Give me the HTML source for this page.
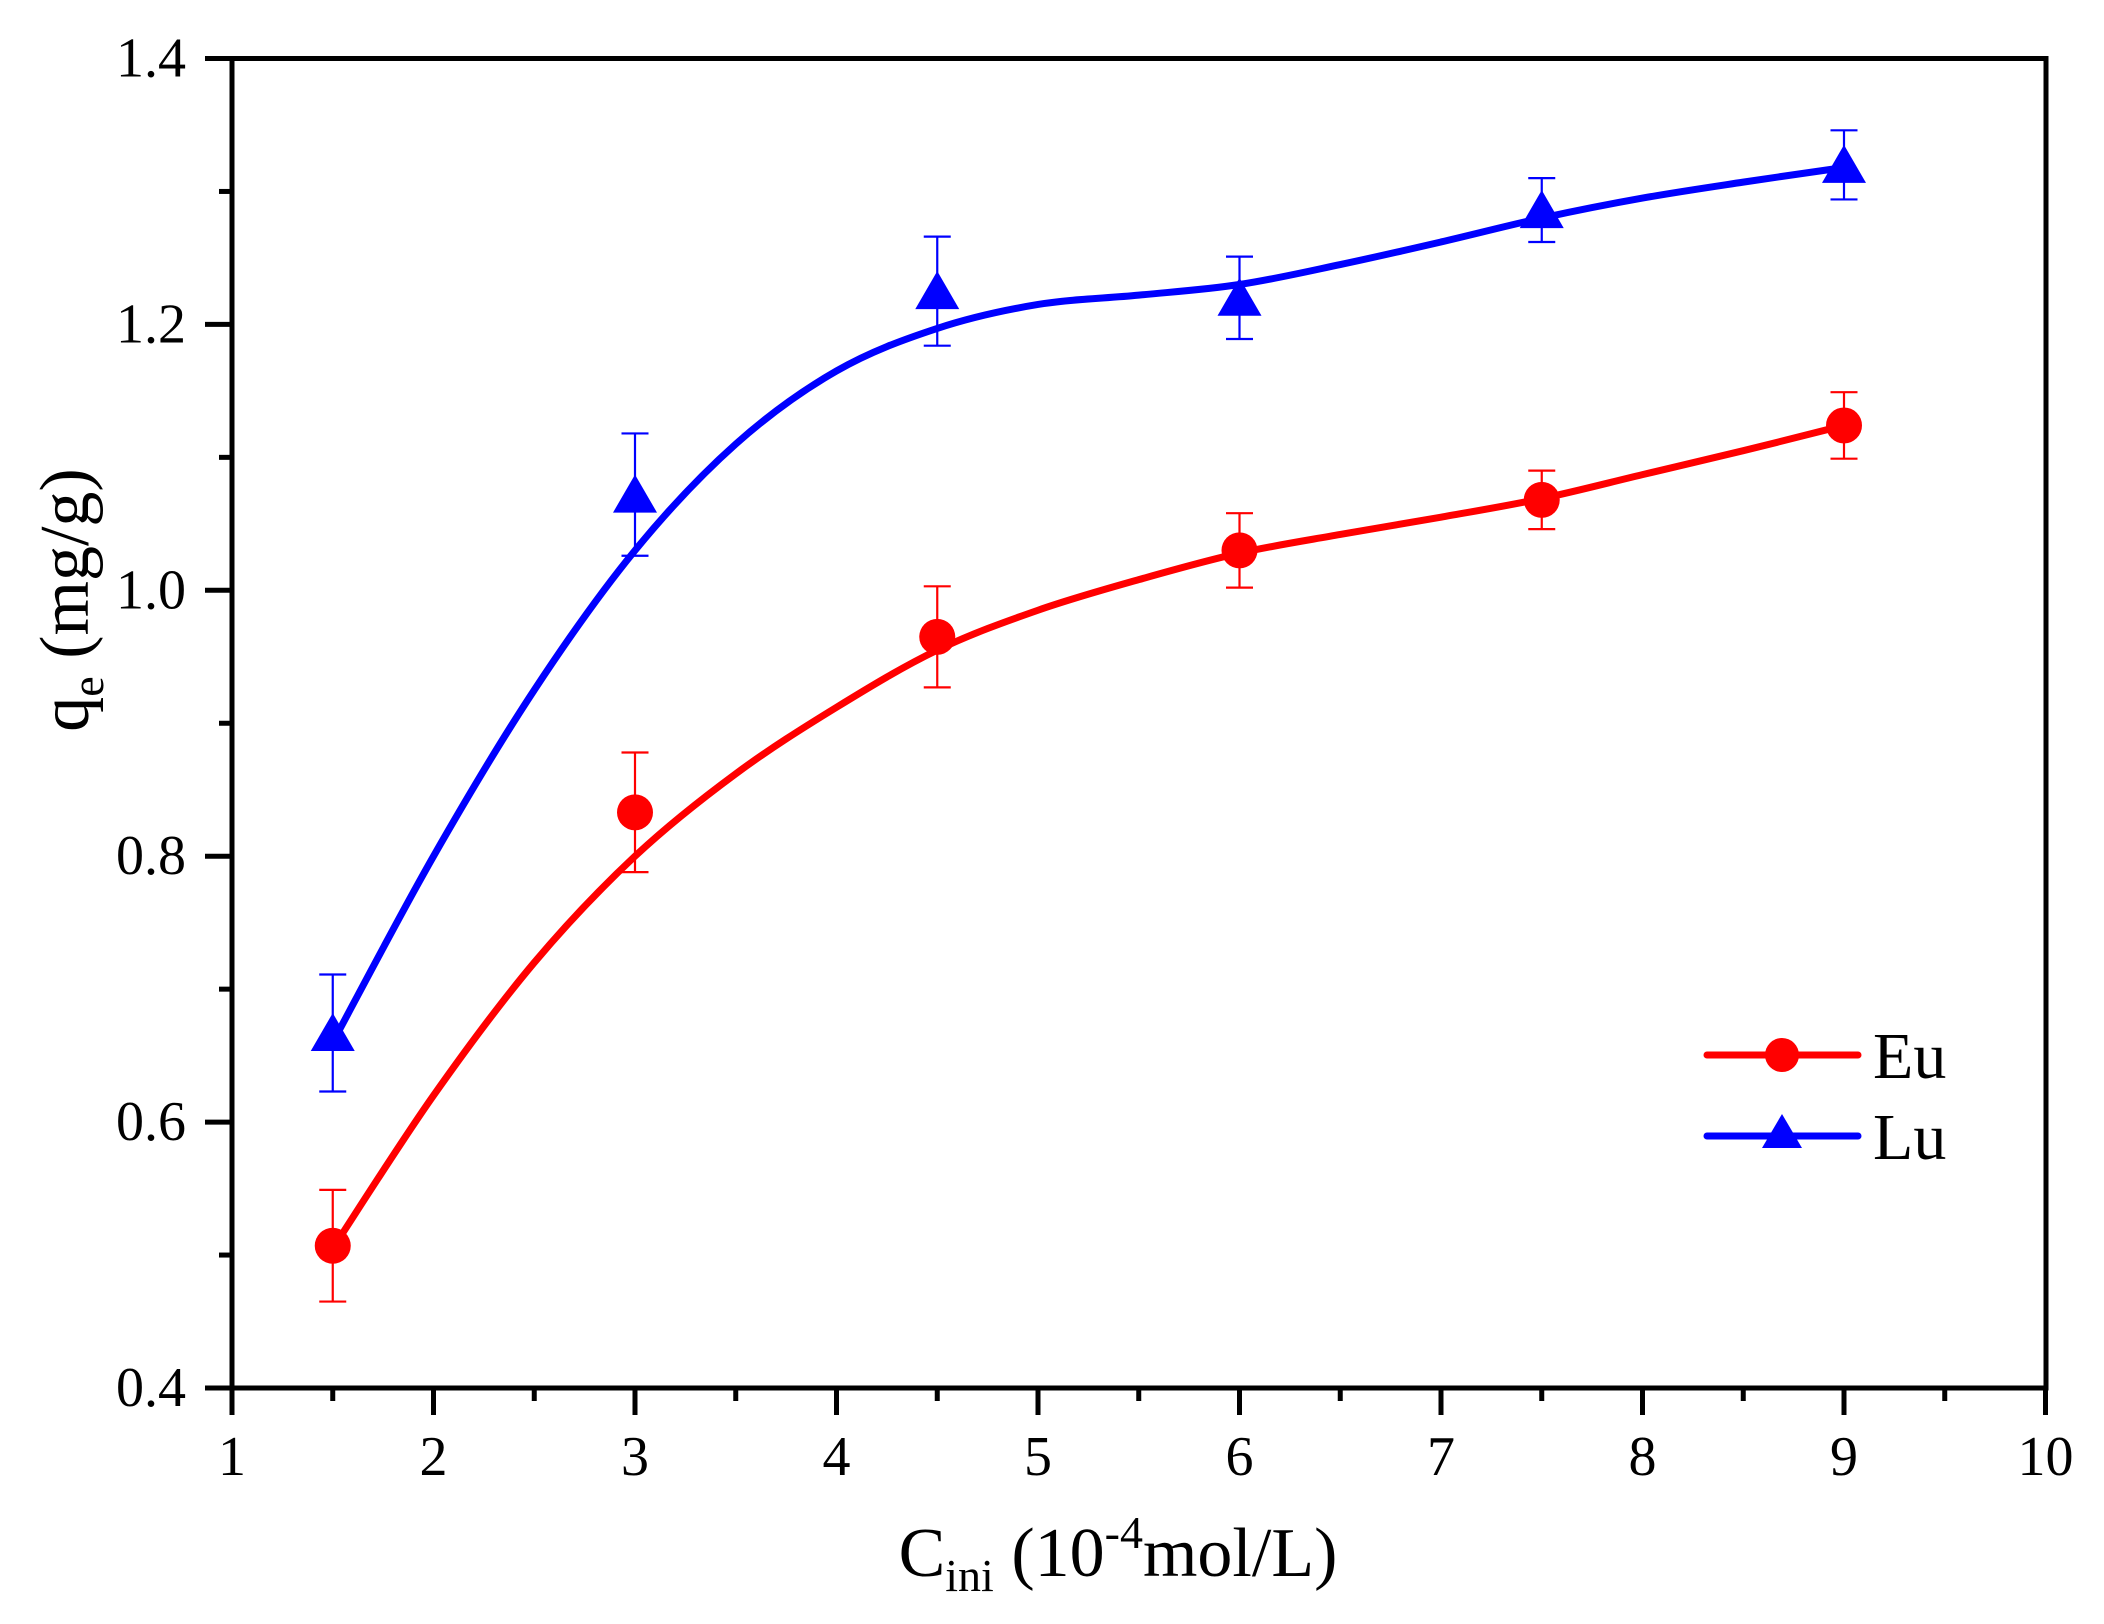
<!DOCTYPE html>
<html><head><meta charset="utf-8"><style>
html,body{margin:0;padding:0;background:#fff;}
svg{display:block;}
text{font-family:"Liberation Serif","Times New Roman",serif;}
</style></head><body>
<svg id="s" width="2104" height="1624" viewBox="0 0 2104 1624" xmlns="http://www.w3.org/2000/svg">
<rect width="2104" height="1624" fill="#fff"/>
<g id="g"></g>
<text x="1118" y="1576" font-size="70" text-anchor="middle" font-family="Liberation Serif, serif">C<tspan font-size="46" dy="15">ini</tspan><tspan dy="-15"> (10</tspan><tspan font-size="46" dy="-28">-4</tspan><tspan dy="28">mol/L)</tspan></text>
<text transform="translate(88,600) rotate(-90)" font-size="70" text-anchor="middle" font-family="Liberation Serif, serif">q<tspan font-size="46" dy="15">e</tspan><tspan dy="-15"> (mg/g)</tspan></text>
<line x1="1707" y1="1055" x2="1858" y2="1055" stroke="#f00" stroke-width="7" stroke-linecap="round"/>
<circle cx="1782" cy="1055" r="17" fill="#f00"/>
<line x1="1707" y1="1136" x2="1858" y2="1136" stroke="#00f" stroke-width="7" stroke-linecap="round"/>
<polygon points="1782,1114 1802,1148 1762,1148" fill="#00f"/>
<text x="1873" y="1078" font-size="66" font-family="Liberation Serif, serif">Eu</text>
<text x="1873" y="1159" font-size="66" font-family="Liberation Serif, serif">Lu</text>
</svg>
<script>
var g=document.getElementById('g'),h='';
function X(v){return 232+(v-1)*201.5;}
function Y(v){return 1388-(v-0.4)*1329.5;}
var F=' font-family="Liberation Serif, serif"';
h+='<rect x="232" y="58.5" width="1814" height="1329.5" fill="none" stroke="#000" stroke-width="5"/>';
for(var i=1;i<=10;i++){var x=X(i);h+='<line x1="'+x+'" y1="1388" x2="'+x+'" y2="1415" stroke="#000" stroke-width="5"/>';
h+='<text x="'+x+'" y="1475" font-size="56" text-anchor="middle"'+F+'>'+i+'</text>';
if(i<10){var xm=X(i+0.5);h+='<line x1="'+xm+'" y1="1388" x2="'+xm+'" y2="1401" stroke="#000" stroke-width="5"/>';}}
for(var j=0;j<=5;j++){var v=0.4+j*0.2,y=Y(v);h+='<line x1="205" y1="'+y+'" x2="232" y2="'+y+'" stroke="#000" stroke-width="5"/>';
h+='<text x="186" y="'+(y+18)+'" font-size="56" text-anchor="end"'+F+'>'+v.toFixed(1)+'</text>';
if(j<5){var ym=Y(v+0.1);h+='<line x1="219" y1="'+ym+'" x2="232" y2="'+ym+'" stroke="#000" stroke-width="5"/>';}}
function curve(p,c){var pts=p.map(function(q){return [X(q[0]),Y(q[1])];});var d='M'+pts[0][0]+','+pts[0][1];
for(var k=0;k<pts.length-1;k++){var p0=pts[k-1]||pts[k],p1=pts[k],p2=pts[k+1],p3=pts[k+2]||p2;
d+=' C'+(p1[0]+(p2[0]-p0[0])/6)+','+(p1[1]+(p2[1]-p0[1])/6)+' '+(p2[0]-(p3[0]-p1[0])/6)+','+(p2[1]-(p3[1]-p1[1])/6)+' '+p2[0]+','+p2[1];}
h+='<path d="'+d+'" fill="none" stroke="'+c+'" stroke-width="7"/>';}
curve([[1.5,0.505],[2,0.62],[2.5,0.72],[3,0.8],[3.5,0.862],[4,0.912],[4.5,0.955],[5,0.985],[5.5,1.008],[6,1.028],[6.5,1.042],[7,1.055],[7.5,1.069],[8,1.087],[8.5,1.105],[9,1.124]],'#f00');
curve([[1.5,0.66],[2,0.8],[2.5,0.925],[3,1.03],[3.5,1.11],[4,1.165],[4.5,1.197],[5,1.215],[5.5,1.222],[6,1.23],[6.5,1.245],[7,1.262],[7.5,1.28],[8,1.295],[8.5,1.307],[9,1.318]],'#00f');
function eb(d,c,tri){d.forEach(function(q){var x=X(q[0]),y=Y(q[1]),t=Y(q[1]+q[2]),b=Y(q[1]-q[2]);
h+='<g stroke="'+c+'" stroke-width="2.2"><line x1="'+x+'" y1="'+t+'" x2="'+x+'" y2="'+b+'"/><line x1="'+(x-13.5)+'" y1="'+t+'" x2="'+(x+13.5)+'" y2="'+t+'"/><line x1="'+(x-13.5)+'" y1="'+b+'" x2="'+(x+13.5)+'" y2="'+b+'"/></g>';
if(tri)h+='<polygon points="'+x+','+(y-20)+' '+(x+22)+','+(y+18)+' '+(x-22)+','+(y+18)+'" fill="'+c+'"/>';
else h+='<circle cx="'+x+'" cy="'+y+'" r="18" fill="'+c+'"/>';});}
eb([[1.5,0.507,0.042],[3,0.833,0.045],[4.5,0.965,0.038],[6,1.03,0.028],[7.5,1.068,0.022],[9,1.124,0.025]],'#f00',false);
eb([[1.5,0.667,0.044],[3,1.072,0.046],[4.5,1.225,0.041],[6,1.22,0.031],[7.5,1.286,0.024],[9,1.32,0.026]],'#00f',true);
g.innerHTML=h;
</script>
</body></html>
